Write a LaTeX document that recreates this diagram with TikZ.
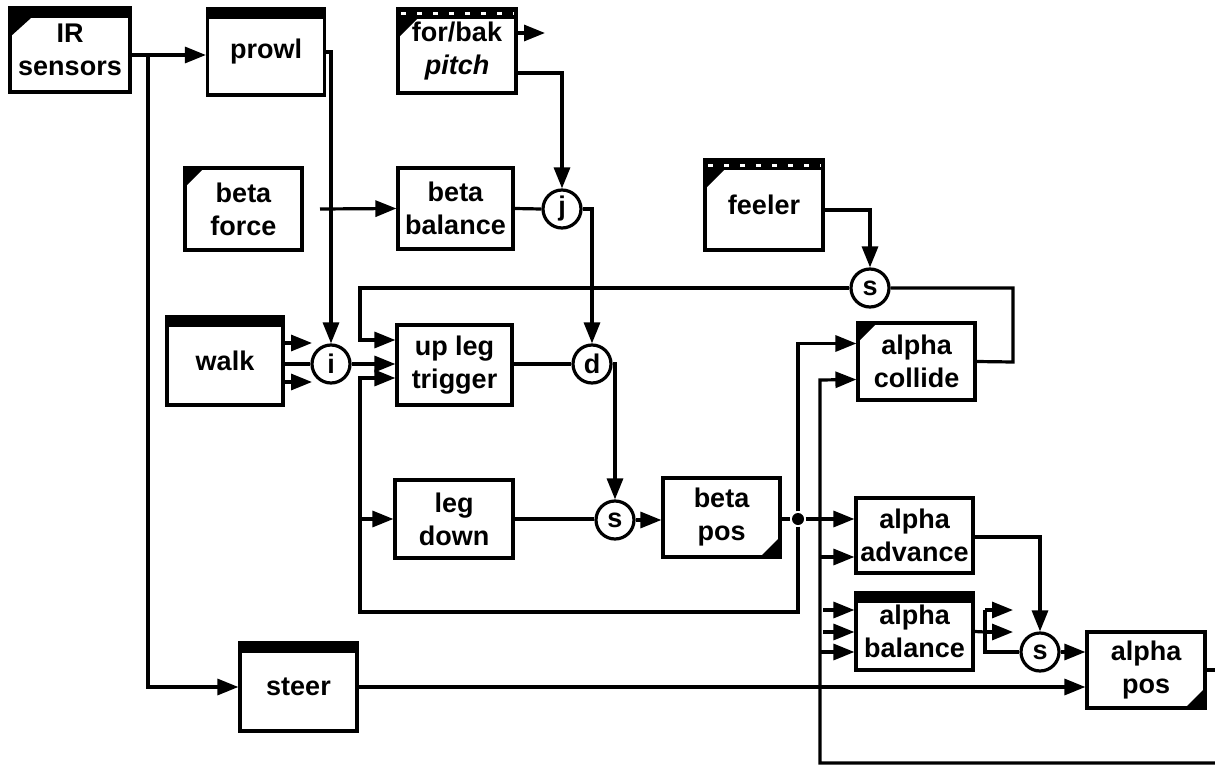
\documentclass[tikz,border=0pt]{standalone}
\usepackage{fontspec}
\setmainfont{Liberation Sans}
\usetikzlibrary{arrows.meta,calc}
\begin{document}
\begin{tikzpicture}[x=1pt,y=-1pt,line width=3.2pt,
  font=\fontsize{27}{33}\selectfont\bfseries,
  blk/.style={draw,line width=3.2pt,inner sep=0pt,align=center,fill=white},
  wh/.style 2 args={minimum width=#1pt,minimum height=#2pt},
  barbox/.style={blk,path picture={\fill[black] (path picture bounding box.north west) rectangle ([yshift=-10pt]path picture bounding box.north east);}},
  tribox/.style={blk,path picture={\fill[black] (path picture bounding box.north west) -- ++(19pt,0pt) -- ++(-19pt,-19pt) -- cycle;}},
  bartribox/.style={blk,path picture={\fill[black] (path picture bounding box.north west) rectangle ([yshift=-10pt]path picture bounding box.north east);
     \fill[black] ([yshift=-10pt]path picture bounding box.north west) -- ++(21pt,0pt) -- ++(-21pt,-19pt) -- cycle;}},
  dashtribox/.style={blk,path picture={\fill[black] (path picture bounding box.north west) rectangle ([yshift=-10pt]path picture bounding box.north east);
     \draw[white,line width=3pt,dash pattern=on 5pt off 11pt] ([xshift=3pt,yshift=-5pt]path picture bounding box.north west) -- ([yshift=-5pt]path picture bounding box.north east);
     \fill[black] ([yshift=-10pt]path picture bounding box.north west) -- ++(19pt,0pt) -- ++(-19pt,-19pt) -- cycle;}},
  brbox/.style={blk,path picture={\fill[black] (path picture bounding box.south east) -- ++(-20pt,0pt) -- ++(20pt,20pt) -- cycle;}},
  jn/.style={circle,draw,line width=3.2pt,minimum size=38pt,inner sep=0pt,fill=white},
  arr/.style={-{Triangle[length=21pt,width=16pt]}},
  ]
\fill[white] (0,0) rectangle (1215,765);
\useasboundingbox (0,0) rectangle (1215,765);

% boxes
\node[bartribox,wh={120}{84}] (ir) at (70,50) {IR\\sensors};
\node[barbox,wh={117}{86}] (prowl) at (266,52) {prowl};
\node[dashtribox,wh={118}{84}] (forbak) at (457,51) {for/bak\\{\itshape pitch}};
\node[tribox,wh={117}{82}] (betaforce) at (243.5,209) {beta\\force};
\node[blk,wh={115}{81}] (betabal) at (455.5,208.5) {beta\\balance};
\node[dashtribox,wh={118}{90}] (feeler) at (764,205) {feeler};
\node[barbox,wh={116}{88}] (walk) at (225,361) {walk};
\node[blk,wh={115}{80}] (upleg) at (454.5,365) {up leg\\trigger};
\node[tribox,wh={117}{77}] (collide) at (916.5,361.5) {alpha\\collide};
\node[blk,wh={118}{78}] (legdown) at (454,519) {leg\\down};
\node[brbox,wh={117}{79}] (betapos) at (721.5,517.5) {beta\\pos};
\node[blk,wh={117}{75}] (advance) at (914.5,535.5) {alpha\\advance};
\node[barbox,wh={117}{77}] (abal) at (914.5,631.5) {alpha\\balance};
\node[brbox,wh={118}{76}] (apos) at (1146,670) {alpha\\pos};
\node[barbox,wh={117}{88}] (steer) at (298.5,687) {steer};

% junctions
\node[jn] (j) at (562,209) {j};
\node[jn] (s1) at (870,288) {s};
\node[jn] (i) at (331,364) {i};
\node[jn] (d) at (592,364) {d};
\node[jn] (s2) at (615,520) {s};
\node[jn] (s3) at (1040,652) {s};
\node[circle,fill,inner sep=0pt,minimum size=12pt] (dot) at (798,519) {};

% free ends and bends
\coordinate (irb) at (148,55);
\coordinate (fbout) at (545,33);
\coordinate (bfout) at (320,209);
\coordinate (ws1) at (312,343);
\coordinate (ws2) at (312,382);
\coordinate (lpR) at (798,612);
\coordinate (lpL) at (360,612);
\coordinate (lpT) at (360,378);
\coordinate (lpM) at (360,519);
\coordinate (fbT) at (360,340);
\coordinate (rtc) at (1013,362);
\coordinate (bot) at (820,763);
\coordinate (botR) at (1215,763);
\coordinate (vT) at (820,380);
\coordinate (vA) at (820,557);
\coordinate (vB) at (820,652);
\coordinate (ab1) at (823,610);
\coordinate (ab2) at (823,632);
\coordinate (abr) at (985,632);
\coordinate (abT) at (985,610);
\coordinate (abB) at (985,652);
\coordinate (ao1) at (1013,610);
\coordinate (ao2) at (1013,632);
\coordinate (aposR) at (1215,670);

% connectors
\draw[arr] ([yshift=-5pt]ir.east) -- ([yshift=-3pt]prowl.west);
\draw[arr] (irb) |- (steer.west);
\draw[arr] (prowl.east) -| (i.north);
\draw[arr] (forbak.east |- fbout) -- (fbout);
\draw[arr] ([yshift=-22pt]forbak.east) -| (j.north);
\draw[arr] (bfout) -- (betabal.west);
\draw (betabal.east) -- (j.west);
\draw[arr] (j.east) -| (d.north);
\draw[arr] ([yshift=-5pt]feeler.east) -| (s1.north);
\draw[arr] (s1.west) -| (fbT) -- ([yshift=25pt]upleg.west);
\draw (s1.east) -| (rtc) -- (collide.east);
\draw[arr] (walk.east |- ws1) -- (ws1);
\draw[arr] (walk.east |- ws2) -- (ws2);
\draw (walk.east |- i.west) -- (i.west);
\draw[arr] (i.east) -- (i.east -| upleg.west);
\draw (upleg.east |- d.west) -- (d.west);
\draw[arr] (d.east) -| (s2.north);
\draw[arr] (dot) -- (lpR) -- (lpL) -- (lpT) -- ([yshift=-13pt]upleg.west);
\draw[arr] (lpM) -- (legdown.west);
\draw[arr] (dot) |- ([yshift=18pt]collide.west);
\draw (betapos.east |- dot) -- (dot);
\draw[arr] (dot) -- (dot -| advance.west);
\draw (legdown.east) -- (legdown.east -| s2.west);
\draw[arr] (s2.east) -- (s2.east -| betapos.west);
\draw[arr] (botR) -- (bot) -- (vT) -- ([yshift=-18pt]collide.west);
\draw[arr] (vA) -- (vA -| advance.west);
\draw[arr] (vB) -- (vB -| abal.west);
\draw[arr] (ab1) -- (ab1 -| abal.west);
\draw[arr] (ab2) -- (ab2 -| abal.west);
\draw (abal.east) -- (abr);
\draw (abT) -- (abB) -- (s3.west);
\draw[arr] (abT) -- (ao1);
\draw[arr] (abr) -- (ao2);
\draw[arr] ([yshift=-1.5pt]advance.east) -| (s3.north);
\draw[arr] (s3.east) -- ([yshift=18pt]apos.west);
\draw[arr] (steer.east) -- (steer.east -| apos.west);
\draw (apos.east) -- (aposR);
\end{tikzpicture}
\end{document}
